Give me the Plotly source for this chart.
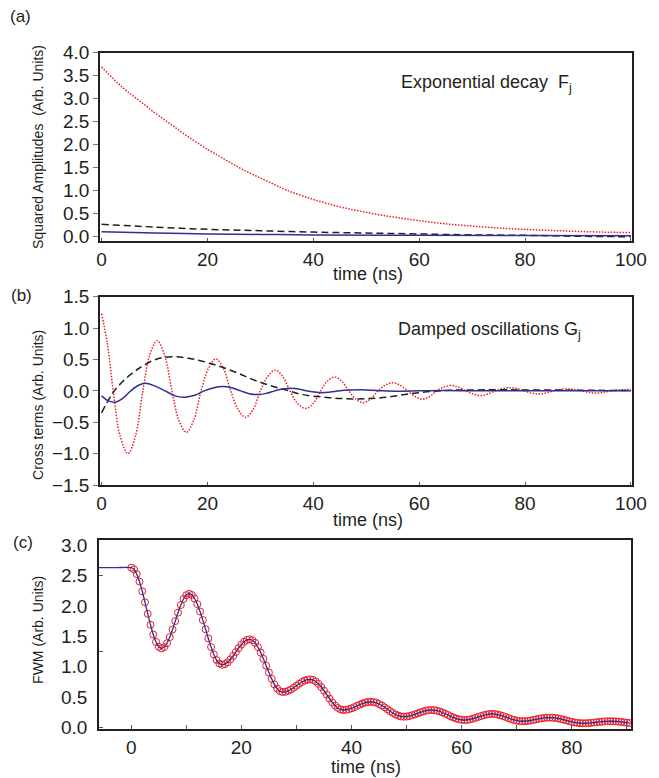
import plotly.graph_objects as go

# ---------------- data ----------------
# Panel (a): squared amplitudes
a_red_t = [0, 4, 7, 10, 13, 16, 20, 23, 26, 29, 32, 35, 40, 45, 50, 55, 60, 65, 70, 75, 80, 85, 90, 95, 100]
a_red_v = [3.69, 3.24, 2.97, 2.70, 2.45, 2.20, 1.90, 1.70, 1.50, 1.33, 1.17, 1.01, 0.81, 0.65, 0.53, 0.43,
           0.35, 0.28, 0.23, 0.19, 0.16, 0.135, 0.115, 0.10, 0.09]
a_black_t = [0, 10, 20, 30, 40, 50, 60, 70, 80, 90, 100]
a_black_v = [0.27, 0.21, 0.16, 0.13, 0.10, 0.08, 0.06, 0.04, 0.03, 0.01, 0.0]
a_blue_t = [0, 10, 20, 30, 40, 60, 80, 100]
a_blue_v = [0.11, 0.08, 0.06, 0.05, 0.04, 0.03, 0.025, 0.02]

# Panel (b): cross terms
b_red_t = [0, 1.1, 2.2, 3.5, 5.0, 6.4, 7.8, 9.1, 10.5, 11.9, 13.3, 14.6, 16.0, 17.4, 18.8, 20.2, 21.6,
           23.0, 24.4, 25.8, 27.2, 28.6, 30.0, 31.4, 32.8, 34.2, 35.6, 37.0, 38.6, 40.0, 41.4, 42.7,
           44.0, 45.3, 46.7, 48.0, 49.4, 50.8, 52.2, 53.6, 55.0, 56.4, 57.8, 59.2, 60.6, 62.0, 63.3,
           64.7, 66.0, 67.4, 68.8, 70.2, 71.6, 73.0, 74.4, 75.8, 77.2, 78.5, 79.8, 81.2, 82.5, 83.9,
           85.3, 86.7, 88.1, 89.4, 90.8, 92.1, 93.4, 94.8, 96.2, 97.6, 100]
b_red_v = [1.23, 0.75, 0.0, -0.72, -1.00, -0.72, 0.0, 0.57, 0.80, 0.57, 0.0, -0.47, -0.66, -0.47, 0.0,
           0.36, 0.51, 0.36, 0.0, -0.30, -0.42, -0.30, 0.0, 0.23, 0.33, 0.23, 0.0, -0.20, -0.28, -0.20,
           0.0, 0.16, 0.22, 0.16, 0.0, -0.13, -0.19, -0.13, 0.0, 0.09, 0.13, 0.09, 0.0, -0.09, -0.13,
           -0.09, 0.0, 0.06, 0.085, 0.06, 0.0, -0.05, -0.075, -0.05, 0.0, 0.035, 0.05, 0.035, 0.0,
           -0.035, -0.05, -0.035, 0.0, 0.02, 0.03, 0.02, 0.0, -0.025, -0.035, -0.025, 0.0, 0.015, 0.02]
b_black_t = [0, 2, 4, 7.1, 10.2, 13.3, 16.4, 19.6, 22.7, 25.8, 28.9, 32, 35, 38, 42, 46, 50, 54, 58, 62,
             66, 70, 80, 90, 100]
b_black_v = [-0.35, -0.05, 0.15, 0.36, 0.50, 0.545, 0.52, 0.46, 0.38, 0.28, 0.17, 0.08, 0.01, -0.06,
             -0.10, -0.125, -0.125, -0.10, -0.05, -0.01, 0.01, 0.015, 0.015, 0.01, 0.005]
b_blue_t = [0, 1.3, 2.6, 4.0, 5.5, 7.0, 8.3, 10.0, 12.0, 13.9, 15.8, 17.6, 19.4, 21.2, 23.0, 24.6, 26.3,
            27.9, 29.5, 31.1, 32.7, 34.2, 35.7, 37.2, 38.7, 40.2, 41.7, 43.2, 45, 47, 49, 51, 53, 56,
            60, 65, 70, 80, 90, 100]
b_blue_v = [-0.08, -0.16, -0.18, -0.12, 0.0, 0.09, 0.12, 0.08, 0.0, -0.08, -0.10, -0.07, 0.0, 0.05,
            0.07, 0.05, 0.0, -0.045, -0.06, -0.04, 0.0, 0.03, 0.04, 0.03, 0.0, -0.02, -0.03, -0.02,
            0.0, 0.012, 0.016, 0.01, 0.0, -0.008, 0.0, 0.005, 0.0, 0.0, 0.0, 0.0]

# Panel (c): FWM signal, samples every 0.5 ns from 0 ns
fwm_values = [
    2.630, 2.603, 2.524, 2.401, 2.241, 2.060, 1.870, 1.689, 1.529, 1.406,
    1.327, 1.300, 1.322, 1.386, 1.486, 1.611, 1.750, 1.889, 2.015, 2.114,
    2.178, 2.200, 2.180, 2.122, 2.029, 1.908, 1.766, 1.615, 1.464, 1.323,
    1.201, 1.108, 1.050, 1.030, 1.040, 1.070, 1.117, 1.175, 1.240, 1.305,
    1.363, 1.410, 1.440, 1.450, 1.435, 1.392, 1.323, 1.233, 1.128, 1.015,
    0.902, 0.798, 0.707, 0.638, 0.595, 0.580, 0.585, 0.600, 0.623, 0.653,
    0.685, 0.717, 0.747, 0.770, 0.785, 0.790, 0.781, 0.756, 0.716, 0.664,
    0.603, 0.538, 0.472, 0.411, 0.359, 0.319, 0.294, 0.285, 0.288, 0.298,
    0.313, 0.332, 0.353, 0.373, 0.392, 0.407, 0.417, 0.420, 0.416, 0.404,
    0.384, 0.359, 0.329, 0.298, 0.266, 0.236, 0.211, 0.191, 0.179, 0.175,
    0.178, 0.186, 0.198, 0.213, 0.230, 0.247, 0.262, 0.275, 0.282, 0.285,
    0.282, 0.274, 0.261, 0.244, 0.224, 0.203, 0.181, 0.161, 0.144, 0.131,
    0.123, 0.120, 0.122, 0.130, 0.141, 0.155, 0.170, 0.185, 0.199, 0.210,
    0.218, 0.220, 0.218, 0.210, 0.199, 0.185, 0.169, 0.151, 0.135, 0.121,
    0.110, 0.102, 0.100, 0.101, 0.106, 0.112, 0.121, 0.130, 0.139, 0.148,
    0.154, 0.159, 0.160, 0.158, 0.154, 0.146, 0.137, 0.125, 0.113, 0.101,
    0.089, 0.080, 0.072, 0.068, 0.066, 0.067, 0.069, 0.073, 0.078, 0.083,
    0.088, 0.093, 0.097, 0.099, 0.100, 0.099, 0.097, 0.093, 0.088, 0.082,
    0.076, 0.070,
]
fwm_time = [0.5 * i for i in range(len(fwm_values))]
fit_pre_time = [-6.0, -3.0]
fit_pre_values = [2.63, 2.63]

xticks_ab = [0, 20, 40, 60, 80, 100]
yticks_a = [0.0, 0.5, 1.0, 1.5, 2.0, 2.5, 3.0, 3.5, 4.0]
yticks_b = [-1.5, -1.0, -0.5, 0.0, 0.5, 1.0, 1.5]
xticks_c = [0, 20, 40, 60, 80]
yticks_c = [0.0, 0.5, 1.0, 1.5, 2.0, 2.5, 3.0]

# ---------------- style ----------------
W, H = 659, 778
L, R, T, B = 99, 19, 52, 49
PW, PH = W - L - R, H - T - B
RED = "#ee1c24"
BLUE = "#2e3192"
BLACK = "#231f20"
FONT = "Liberation Sans, Arial, Helvetica, sans-serif"

def px_x(px):
    return (px - L) / PW

def px_y(py):
    return (H - B - py) / PH

red_dot = dict(color=RED, width=1.5, dash="1.5px,1.5px")
black_dash = dict(color=BLACK, width=1.5, dash="7px,4px")
blue_solid = dict(color=BLUE, width=1.5)

fig = go.Figure()
# (a)
fig.add_trace(go.Scatter(x=a_red_t, y=a_red_v, mode="lines", line=red_dot, line_shape="spline", xaxis="x", yaxis="y"))
fig.add_trace(go.Scatter(x=a_black_t, y=a_black_v, mode="lines", line=black_dash, line_shape="spline", xaxis="x", yaxis="y"))
fig.add_trace(go.Scatter(x=a_blue_t, y=a_blue_v, mode="lines", line=blue_solid, line_shape="spline", xaxis="x", yaxis="y"))
# (b)
fig.add_trace(go.Scatter(x=b_red_t, y=b_red_v, mode="lines", line=red_dot, line_shape="spline", xaxis="x2", yaxis="y2"))
fig.add_trace(go.Scatter(x=b_black_t, y=b_black_v, mode="lines", line=black_dash, line_shape="spline", xaxis="x2", yaxis="y2"))
fig.add_trace(go.Scatter(x=b_blue_t, y=b_blue_v, mode="lines", line=blue_solid, line_shape="spline", xaxis="x2", yaxis="y2"))
# (c)
fig.add_trace(go.Scatter(x=fwm_time, y=fwm_values, mode="markers",
                         marker=dict(symbol="circle-open", size=7, color=RED, line=dict(width=1, color=RED)),
                         xaxis="x3", yaxis="y3"))
fig.add_trace(go.Scatter(x=fit_pre_time + fwm_time, y=fit_pre_values + fwm_values, mode="lines",
                         line=dict(color=BLUE, width=1.3), line_shape="spline", xaxis="x3", yaxis="y3"))

axis_common = dict(showgrid=False, zeroline=False, showline=True, mirror=True,
                   linecolor=BLACK, linewidth=1.5, tickfont=dict(size=19, color=BLACK, family=FONT))

fig.update_layout(
    width=W, height=H, margin=dict(l=L, r=R, t=T, b=B),
    paper_bgcolor="white", plot_bgcolor="white", showlegend=False,
    font=dict(family=FONT, color=BLACK),
    xaxis=dict(domain=[px_x(100), 1], anchor="y", range=[-0.3, 100.2], tickvals=xticks_ab,
               ticks="inside", ticklen=3, tickcolor="#555", **axis_common),
    yaxis=dict(domain=[px_y(241), px_y(52.7)], anchor="x", range=[-0.093, 4.0],
               tickvals=yticks_a, ticktext=[f"{v:.1f}" for v in yticks_a],
               ticks="outside", ticklen=5, tickcolor="#777", **axis_common),
    xaxis2=dict(domain=[px_x(100), 1], anchor="y2", range=[-0.3, 100.2], tickvals=xticks_ab,
                ticks="inside", ticklen=3, tickcolor="#555", **axis_common),
    yaxis2=dict(domain=[px_y(485), px_y(296.7)], anchor="x2", range=[-1.5, 1.5],
                tickvals=yticks_b, ticktext=[f"{v:.1f}".replace("-", "\u2212") for v in yticks_b],
                ticks="outside", ticklen=5, tickcolor="#777", **axis_common),
    xaxis3=dict(domain=[0, px_x(639.3)], anchor="y3", range=[-5.85, 90.8], tickvals=xticks_c,
                ticks="inside", ticklen=4, tickcolor="#555",
                minor=dict(dtick=10, tick0=0, ticks="inside", ticklen=4, tickcolor="#555"),
                **axis_common),
    yaxis3=dict(domain=[0, px_y(540)], anchor="x3", range=[-0.028, 3.086],
                tickvals=yticks_c, ticktext=[f"{v:.1f}" for v in yticks_c],
                ticks="inside", ticklen=0, ticklabelstandoff=6,
                minor=dict(tickvals=[0, 1.25, 2.5], ticks="inside", ticklen=4, tickcolor="#555"),
                **axis_common),
)

ann = []
def add_text(text, px, py, size, xanchor="center", yanchor="middle", angle=0):
    ann.append(dict(text=text, x=px_x(px), y=px_y(py), xref="paper", yref="paper",
                    xanchor=xanchor, yanchor=yanchor, showarrow=False, textangle=angle,
                    font=dict(size=size, color=BLACK, family=FONT)))

add_text("(a)", 19, 16, 17)
add_text("(b)", 20, 295, 17)
add_text("(c)", 22, 542, 17)
add_text("Squared Amplitudes  (Arb. Units)", 37, 147, 14, angle=-90)
add_text("Cross terms (Arb. Units)", 37, 405, 14, angle=-90)
add_text("FWM (Arb. Units)", 37, 630, 14, angle=-90)
add_text("time (ns)", 372, 274, 18)
add_text("time (ns)", 372, 520, 18)
add_text("time (ns)", 370, 767, 18)
add_text("Exponential decay  F<sub>j</sub>", 403, 84, 18, xanchor="left")
add_text("Damped oscillations G<sub>j</sub>", 400, 330, 18, xanchor="left")
fig.update_layout(annotations=ann)

fig.write_html("out.html")
